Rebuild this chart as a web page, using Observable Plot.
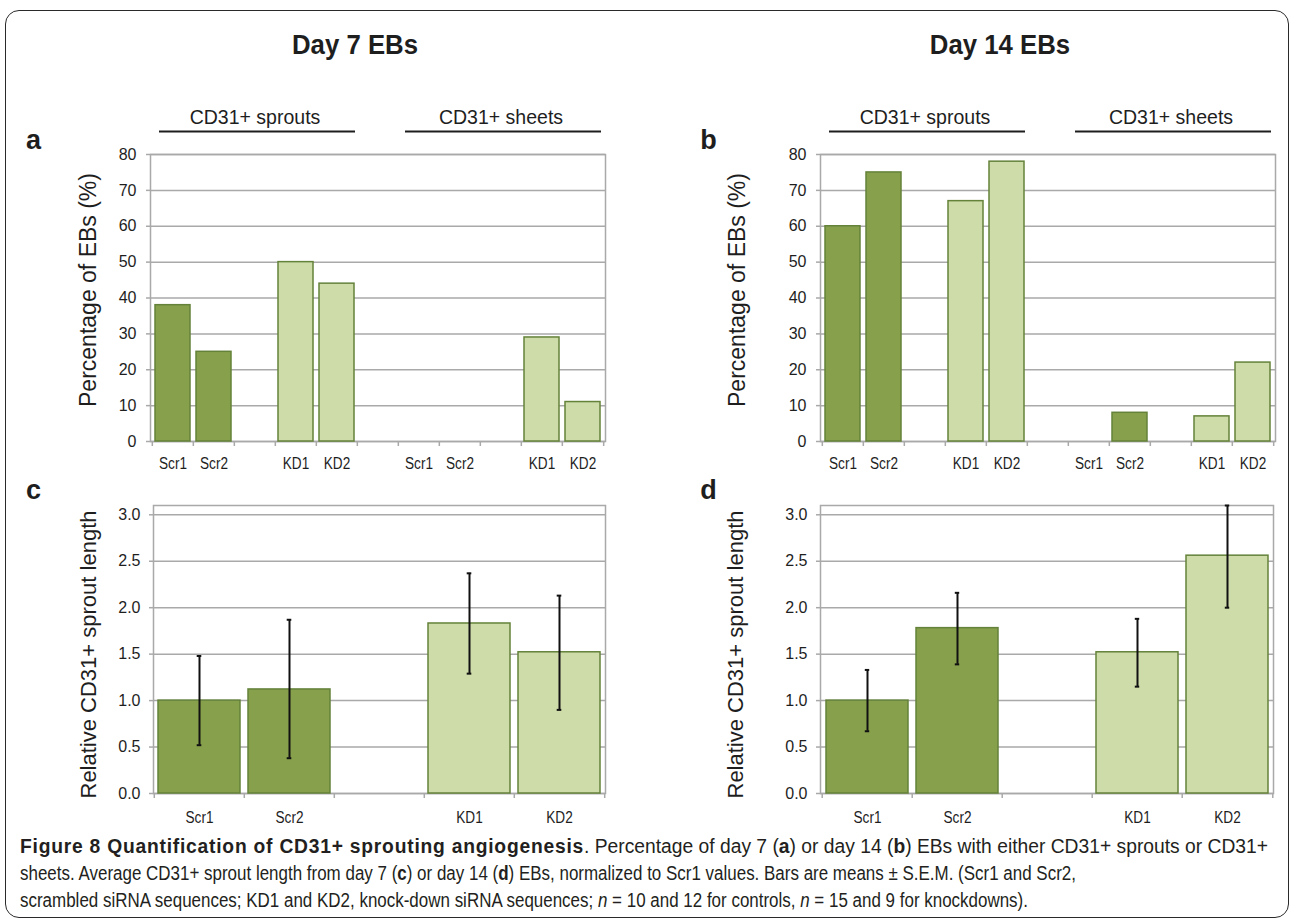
<!DOCTYPE html>
<html>
<head>
<meta charset="utf-8">
<script src="https://cdn.jsdelivr.net/npm/d3@7"></script>
<script src="https://cdn.jsdelivr.net/npm/@observablehq/plot@0.6"></script>
<style>
  body { margin: 0; background: #fff; font-family: "Liberation Sans", Arial, sans-serif; color: #1e1e1e; }
  #page { position: relative; width: 1290px; height: 921px; overflow: hidden; background: #fff; }
  .frame { position: absolute; left: 5px; top: 10px; width: 1284px; height: 908px; border: 1.5px solid #2a2a2a; border-radius: 14px; box-sizing: border-box; }
  .abs { position: absolute; }
  .daytitle { position: absolute; font-weight: bold; font-size: 28px; transform: translate(-50%, -50%) scaleX(0.92); white-space: nowrap; }
  .cap { position: absolute; left: 20px; font-family: "Liberation Sans", Arial, sans-serif; font-size: 20px; white-space: nowrap; color: #231f20; transform-origin: 0 50%; }
  .cap b { font-weight: bold; }
  #c1 b.lead { letter-spacing: 0.8px; }
</style>
</head>
<body>
<div id="page">
  <div class="frame"></div>
  <div id="t0" class="daytitle" style="left:355px; top:45px;"></div>
  <div id="t1" class="daytitle" style="left:1000px; top:45px;"></div>
  <div id="pa" class="abs" style="left:0px; top:94px;"></div>
  <div id="pb" class="abs" style="left:660px; top:94px;"></div>
  <div id="pc" class="abs" style="left:0px; top:475px;"></div>
  <div id="pd" class="abs" style="left:660px; top:475px;"></div>
  <div id="c1" class="cap" style="top:835px;"><b class="lead">Figure 8 Quantification of CD31+ sprouting angiogenesis</b>. Percentage of day 7 (<b>a</b>) or day 14 (<b>b</b>) EBs with either CD31+ sprouts or CD31+</div>
  <div id="c2" class="cap" style="top:862px;">sheets. Average CD31+ sprout length from day 7 (<b>c</b>) or day 14 (<b>d</b>) EBs, normalized to Scr1 values. Bars are means ± S.E.M. (Scr1 and Scr2,</div>
  <div id="c3" class="cap" style="top:889px;">scrambled siRNA sequences; KD1 and KD2, knock-down siRNA sequences; <i>n</i> = 10 and 12 for controls, <i>n</i> = 15 and 9 for knockdowns).</div>
</div>
<script>
// ---------------- data ----------------
const dayTitles = ["Day 7 EBs", "Day 14 EBs"];
const panelLetters = ["a", "b", "c", "d"];
const groups = ["CD31+ sprouts", "CD31+ sheets"];
const conditions = ["Scr1", "Scr2", "KD1", "KD2"];
const conditionKind = ["Scrambled", "Scrambled", "Knock-down", "Knock-down"];

const day7Sprouts = [38, 25, 50, 44];
const day7Sheets = [0, 0, 29, 11];
const day14Sprouts = [60, 75, 67, 78];
const day14Sheets = [0, 8, 7, 22];

const day7Length = [1.00, 1.12, 1.83, 1.52];
const day7LengthLow = [0.52, 0.38, 1.29, 0.90];
const day7LengthHigh = [1.48, 1.87, 2.37, 2.13];
const day14Length = [1.00, 1.78, 1.52, 2.56];
const day14LengthLow = [0.67, 1.39, 1.15, 2.00];
const day14LengthHigh = [1.33, 2.16, 1.88, 3.10];

const percentTicks = [0, 10, 20, 30, 40, 50, 60, 70, 80];
const lengthTicks = [0, 0.5, 1.0, 1.5, 2.0, 2.5, 3.0];
const percentLabel = "Percentage of EBs (%)";
const lengthLabel = "Relative CD31+ sprout length";

// ---------------- style ----------------
const DARK = "#87a04c", LIGHT = "#cddca9", EDGE = "#64823a", GRID = "#a9a9a9", INK = "#1e1e1e";
const baseStyle = { fontFamily: "Liberation Sans, Arial, sans-serif", fontSize: "15px", color: INK, background: "transparent", overflow: "visible" };

document.getElementById("t0").textContent = dayTitles[0];
document.getElementById("t1").textContent = dayTitles[1];

// slot structure: Scr1, Scr2, (gap), KD1, KD2
const slotIds = (p) => [`${p}|Scr1`, `${p}|Scr2`, `${p}|gap`, `${p}|KD1`, `${p}|KD2`];
const domainAB = [...slotIds("g0"), "mid|gap", ...slotIds("g1")];
const domainCD = slotIds("L");
const slotLabel = (id) => { const c = id.split("|")[1]; return conditions.includes(c) ? c : ""; };

function boundaryTicks(domain, bw) {
  return [
    Plot.ruleX(domain, { x: (d) => d, y1: 0, y2: 0, insetTop: 0, insetBottom: -5, dx: -bw / 2, stroke: GRID, strokeWidth: 1.5 }),
    Plot.ruleX([domain[domain.length - 1]], { x: (d) => d, y1: 0, y2: 0, insetTop: 0, insetBottom: -5, dx: bw / 2, stroke: GRID, strokeWidth: 1.5 })
  ];
}

// narrow the category labels (the original uses a condensed face)
function condenseXLabels(svg, k) {
  d3.select(svg).selectAll('g[aria-label="x-axis tick label"] text').each(function () {
    const t = this.getAttribute("transform") || "";
    this.setAttribute("transform", `${t} scale(${k},1)`);
  });
  return svg;
}

function percentPanel({ sprouts, sheets, letter, width, marginLeft, marginRight, titleDx, titleDy, letterDx }) {
  const rows = [];
  [sprouts, sheets].forEach((vals, g) => vals.forEach((v, i) => {
    if (v > 0) rows.push({ id: `g${g}|${conditions[i]}`, value: v, kind: conditionKind[i] });
  }));
  const groupRows = groups.map((name, g) => ({ name, center: `g${g}|gap`, from: `g${g}|Scr1`, to: `g${g}|KD2` }));
  const bw = (width - marginLeft - marginRight) / domainAB.length;
  return condenseXLabels(Plot.plot({
    width, height: 387, marginTop: 60, marginBottom: 40, marginLeft, marginRight,
    style: baseStyle,
    x: { type: "band", domain: domainAB, padding: 0, label: null },
    y: { domain: [0, 80], label: null },
    color: { domain: ["Scrambled", "Knock-down"], range: [DARK, LIGHT] },
    marks: [
      Plot.ruleY(percentTicks, { stroke: GRID, strokeWidth: 1.5 }),
      Plot.frame({ stroke: GRID, strokeWidth: 1.5 }),
      Plot.barY(rows, { x: "id", y: "value", fill: "kind", stroke: EDGE, strokeWidth: 1.5, insetLeft: 3, insetRight: 3 }),
      ...boundaryTicks(domainAB, bw),
      Plot.axisY({ ticks: percentTicks, tickSize: 4, tickPadding: 10, stroke: GRID, strokeWidth: 1.5, fill: INK, fontSize: 16, label: null }),
      Plot.axisX({ tickSize: 0, tickPadding: 15, tickFormat: slotLabel, fill: INK, fontSize: 17, label: null }),
      Plot.text([percentLabel], { frameAnchor: "left", rotate: -90, dx: titleDx, dy: titleDy, fontSize: 23, textAnchor: "middle", lineAnchor: "middle", fill: INK }),
      Plot.text([letter], { frameAnchor: "top-left", dx: letterDx, dy: -14, fontSize: 27, fontWeight: "bold", textAnchor: "middle", lineAnchor: "middle", fill: INK }),
      Plot.ruleY(groupRows, { x1: "from", x2: "to", y: 80, dy: -23, insetLeft: 7, insetRight: 2, stroke: INK, strokeWidth: 2 }),
      Plot.text(groupRows, { x: "center", y: 80, dy: -37, text: "name", fontSize: 19.5, fill: INK, lineAnchor: "middle" })
    ]
  }), 0.8);
}

function lengthPanel({ values, low, high, letter, width, marginLeft, marginRight, titleDx, titleDy, letterDx }) {
  const rows = conditions.map((c, i) => ({ id: `L|${c}`, value: values[i], low: low[i], high: high[i], kind: conditionKind[i] }));
  const bw = (width - marginLeft - marginRight) / domainCD.length;
  return condenseXLabels(Plot.plot({
    width, height: 358, marginTop: 30, marginBottom: 40, marginLeft, marginRight,
    style: baseStyle,
    x: { type: "band", domain: domainCD, padding: 0, label: null },
    y: { domain: [0, 3.1], label: null },
    color: { domain: ["Scrambled", "Knock-down"], range: [DARK, LIGHT] },
    marks: [
      Plot.ruleY(lengthTicks, { stroke: GRID, strokeWidth: 1.5 }),
      Plot.frame({ stroke: GRID, strokeWidth: 1.5 }),
      Plot.barY(rows, { x: "id", y: "value", fill: "kind", stroke: EDGE, strokeWidth: 1.5, insetLeft: 4, insetRight: 4 }),
      Plot.ruleX(rows, { x: "id", y1: "low", y2: "high", stroke: "#111", strokeWidth: 2 }),
      Plot.tickY(rows, { x: "id", y: "low", stroke: "#111", strokeWidth: 2, insetLeft: bw / 2 - 2.5, insetRight: bw / 2 - 2.5 }),
      Plot.tickY(rows, { x: "id", y: "high", stroke: "#111", strokeWidth: 2, insetLeft: bw / 2 - 2.5, insetRight: bw / 2 - 2.5 }),
      ...boundaryTicks(domainCD, bw),
      Plot.axisY({ ticks: lengthTicks, tickFormat: d3.format(".1f"), tickSize: 4, tickPadding: 9, stroke: GRID, strokeWidth: 1.5, fill: INK, fontSize: 16, label: null }),
      Plot.axisX({ tickSize: 0, tickPadding: 17, tickFormat: slotLabel, fill: INK, fontSize: 17, label: null }),
      Plot.text([lengthLabel], { frameAnchor: "left", rotate: -90, dx: titleDx, dy: titleDy, fontSize: 22, textAnchor: "middle", lineAnchor: "middle", fill: INK }),
      Plot.text([letter], { frameAnchor: "top-left", dx: letterDx, dy: -15, fontSize: 27, fontWeight: "bold", textAnchor: "middle", lineAnchor: "middle", fill: INK })
    ]
  }), 0.8);
}

document.getElementById("pa").append(percentPanel({ sprouts: day7Sprouts, sheets: day7Sheets, letter: panelLetters[0], width: 640, marginLeft: 150, marginRight: 35, titleDx: -62, titleDy: -8, letterDx: -117 }));
document.getElementById("pb").append(percentPanel({ sprouts: day14Sprouts, sheets: day14Sheets, letter: panelLetters[1], width: 630, marginLeft: 160, marginRight: 15, titleDx: -83, titleDy: -8, letterDx: -112 }));
document.getElementById("pc").append(lengthPanel({ values: day7Length, low: day7LengthLow, high: day7LengthHigh, letter: panelLetters[2], width: 640, marginLeft: 153, marginRight: 35, titleDx: -65, titleDy: 5, letterDx: -120 }));
document.getElementById("pd").append(lengthPanel({ values: day14Length, low: day14LengthLow, high: day14LengthHigh, letter: panelLetters[3], width: 630, marginLeft: 160, marginRight: 17, titleDx: -85, titleDy: 5, letterDx: -112 }));

// Caption: condensed to the original measure. Lines 2 and 3 end near x=1100 and x=1005;
// line 1 spans the full measure (~1248px) and gets its own horizontal fit.
const cap = ["c1", "c2", "c3"].map((id) => document.getElementById(id));
const w1 = cap[0].getBoundingClientRect().width;
const w2 = cap[1].getBoundingClientRect().width;
const w3 = cap[2].getBoundingClientRect().width;
const k = (1080 / w2 + 985 / w3) / 2;
cap[1].style.transform = `scaleX(${k})`;
cap[2].style.transform = `scaleX(${k})`;
cap[0].style.transform = `scaleX(${1248 / w1})`;
</script>
</body>
</html>
